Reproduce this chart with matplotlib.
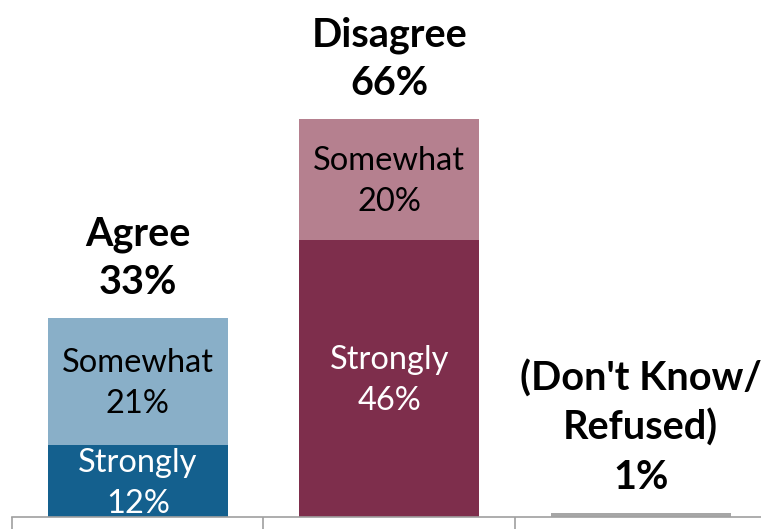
import matplotlib
matplotlib.use("Agg")
import matplotlib.pyplot as plt

# ==========================
# DATA
# ==========================
groups = ["Agree", "Disagree", "(Don't Know/\nRefused)"]
totals = ["33%", "66%", "1%"]
strongly = [12, 46, 0.7]
somewhat = [21, 20, 0]
strongly_labels = ["12%", "46%", ""]
somewhat_labels = ["21%", "20%", ""]

strong_colors = ["#14608e", "#7e2e4c", "#a6a6a6"]
some_colors = ["#89afc8", "#b5808f", "#a6a6a6"]

plt.rcParams["font.family"] = ["Lato", "DejaVu Sans"]

PX = 0.72  # points per pixel at dpi 100

fig = plt.figure(figsize=(7.61, 5.29), dpi=100)
ax = fig.add_axes([12 / 761, 12 / 529, 754.5 / 761, 517 / 529])

x = range(len(groups))
ax.bar(x, strongly, width=0.716, color=strong_colors)
ax.bar(x, somewhat, width=0.716, bottom=strongly, color=some_colors)


def inside(xi, lo, hi, word, pct, color):
    mid = (lo + hi) / 2
    ax.annotate(word, (xi, mid), xytext=(0, 9 * PX), textcoords="offset points",
                ha="center", va="baseline", fontsize=23.5, color=color)
    ax.annotate(pct, (xi, mid), xytext=(0, -32 * PX), textcoords="offset points",
                ha="center", va="baseline", fontsize=23.5, color=color)


for i in x:
    if strongly_labels[i]:
        inside(i, 0, strongly[i], "Strongly", strongly_labels[i], "white")
    if somewhat_labels[i]:
        top = strongly[i] + somewhat[i]
        inside(i, strongly[i], top, "Somewhat", somewhat_labels[i], "black")

    # label di atas bar
    top = strongly[i] + somewhat[i]
    lines = groups[i].split("\n") + [totals[i]]
    for k, line in enumerate(reversed(lines)):
        ax.annotate(line, (i, top), xytext=(0, (24 + 49 * k) * PX),
                    textcoords="offset points", ha="center", va="baseline",
                    fontsize=28.5, fontweight="bold", color="black")

ax.set_xlim(-0.5, 2.5)
ax.set_ylim(0, 517 / 6.03)

for s in ["top", "left", "right"]:
    ax.spines[s].set_visible(False)
ax.spines["bottom"].set_color("#a0a0a0")
ax.spines["bottom"].set_linewidth(1.2)

ax.set_yticks([])
ax.set_xticks([-0.5, 0.5, 1.5, 2.5])
ax.set_xticklabels([])
ax.tick_params(axis="x", direction="out", length=12 * PX, width=1.2, color="#a0a0a0")

fig.savefig("out.png", dpi=100)
